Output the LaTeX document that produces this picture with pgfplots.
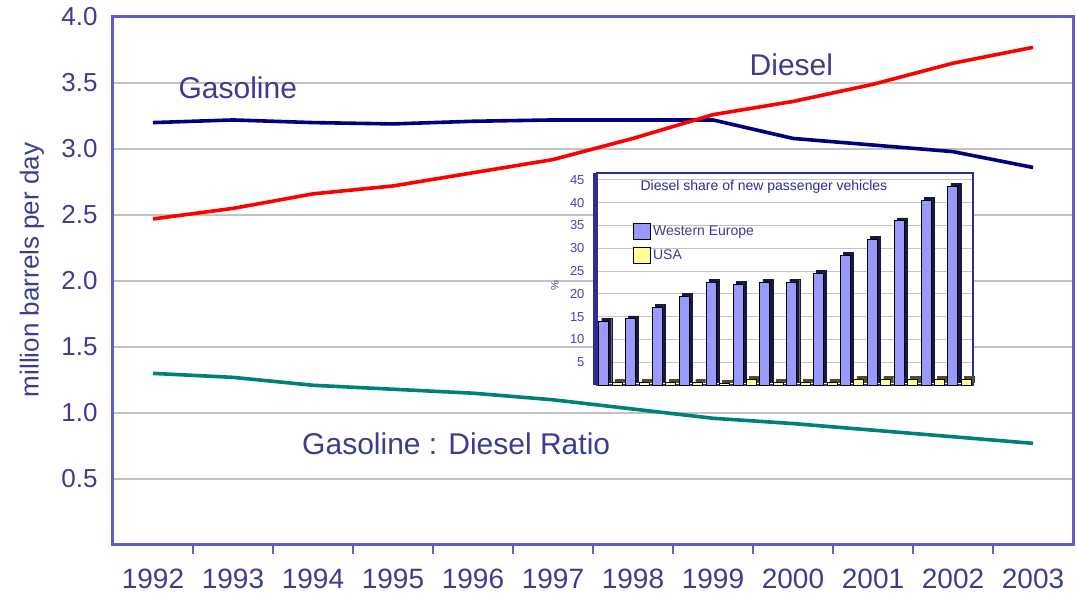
\documentclass[border=0pt]{standalone}
\usepackage{fontspec}
\setmainfont{Liberation Sans}
\usepackage{pgfplots}
\pgfplotsset{compat=1.18}

\definecolor{txtblue}{RGB}{60,60,150}
\definecolor{frameblue}{RGB}{95,95,200}
\definecolor{gasnavy}{RGB}{0,0,128}
\definecolor{dieselred}{RGB}{255,0,0}
\definecolor{ratioteal}{RGB}{0,128,120}
\definecolor{gridgray}{RGB}{195,195,195}
\definecolor{insetframe}{RGB}{45,45,150}
\definecolor{insettxt}{RGB}{70,70,170}
\definecolor{weblue}{RGB}{153,153,255}
\definecolor{usayellow}{RGB}{255,255,153}
\definecolor{barside}{RGB}{25,25,60}
\definecolor{usaside}{RGB}{80,80,40}

\begin{document}
\begin{tikzpicture}
\begin{axis}[
  name=main,
  scale only axis, width=960pt, height=528pt,
  xmin=-0.5, xmax=11.5, ymin=0, ymax=4,
  clip=false,
  xtick={0,...,11},
  xticklabels={1992,1993,1994,1995,1996,1997,1998,1999,2000,2001,2002,2003},
  ytick={0.5,1,1.5,2,2.5,3,3.5,4},
  /pgf/number format/assume math mode=true,
  major tick length=0pt,
  tick pos=left,
  extra x ticks={0.5,1.5,2.5,3.5,4.5,5.5,6.5,7.5,8.5,9.5,10.5},
  extra x tick labels={},
  extra x tick style={major tick length=9pt, tick align=outside,
    tick style={line width=2pt, color=frameblue}, grid=none},
  ymajorgrids,
  major grid style={gridgray, line width=1.2pt},
  axis line style={frameblue, line width=3pt},
  xticklabel style={font=\fontsize{28}{32}\selectfont, text=txtblue},
  yticklabel style={font=\fontsize{26}{30}\selectfont, text=txtblue,
    /pgf/number format/fixed, /pgf/number format/fixed zerofill,
    /pgf/number format/precision=1},
  xticklabel shift=20pt, yticklabel shift=12pt,
  ylabel={million barrels per day},
  ylabel style={at={(axis description cs:-0.0844,0.521)}, anchor=center,
    font=\fontsize{26}{30}\selectfont, text=txtblue},
]
% Gasoline demand
\addplot[gasnavy, line width=3.6pt, line join=round] coordinates {
  (0,3.20) (1,3.22) (2,3.20) (3,3.19) (4,3.21) (5,3.22)
  (6,3.22) (7,3.22) (8,3.08) (9,3.03) (10,2.98) (11,2.86)};
% Diesel demand
\addplot[dieselred, line width=3.6pt, line join=round] coordinates {
  (0,2.47) (1,2.55) (2,2.66) (3,2.72) (4,2.82) (5,2.92)
  (6,3.08) (7,3.26) (8,3.36) (9,3.49) (10,3.65) (11,3.77)};
% Gasoline : diesel ratio
\addplot[ratioteal, line width=3.6pt, line join=round] coordinates {
  (0,1.30) (1,1.27) (2,1.21) (3,1.18) (4,1.15) (5,1.10)
  (6,1.03) (7,0.96) (8,0.92) (9,0.87) (10,0.82) (11,0.77)};

\node[text=txtblue, font=\fontsize{30}{34}\selectfont] at (axis cs:1.06,3.46) {Gasoline};
\node[text=txtblue, font=\fontsize{30}{34}\selectfont] at (axis cs:7.98,3.64) {Diesel};
\node[text=txtblue, font=\fontsize{30}{34}\selectfont] at (axis cs:3.79,0.77) {Gasoline : Diesel Ratio};
\end{axis}

% Inset: diesel share of new passenger vehicles
\begin{axis}[
  at={(main.south west)}, anchor=south west, xshift=484pt, yshift=160pt,
  scale only axis, width=376pt, height=212pt,
  xmin=-0.5, xmax=13.5, ymin=0, ymax=46.5,
  clip=false,
  xtick=\empty,
  ytick={5,10,...,45},
  /pgf/number format/assume math mode=true,
  major tick length=0pt,
  ymajorgrids,
  major grid style={gridgray, line width=0.8pt},
  axis background/.style={fill=white},
  axis line style={insetframe, line width=2pt},
  yticklabel style={font=\fontsize{13}{15}\selectfont, text=insettxt},
  yticklabel shift=9pt,
  legend style={at={(axis description cs:0.096,0.764)}, anchor=north west,
    draw=none, fill=none, font=\fontsize{14}{16}\selectfont, text=txtblue,
    row sep=7pt, inner sep=0pt},
  legend cell align=left,
]
% depth faces
\addplot[ybar, bar width=10pt, bar shift=-3.7pt, yshift=3pt,
  fill=barside, draw=barside, forget plot] coordinates {
  (0,14) (1,14.5) (2,17) (3,19.5) (4,22.5) (5,22) (6,22.5)
  (7,22.5) (8,24.5) (9,28.5) (10,32) (11,36) (12,40.5) (13,43.5)};
\addplot[ybar, bar width=10pt, bar shift=9.7pt, yshift=3pt,
  fill=usaside, draw=usaside, forget plot] coordinates {
  (0,0.6) (1,0.6) (2,0.6) (3,0.6) (4,0.3) (5,1.2) (6,0.6)
  (7,0.6) (8,0.6) (9,1.2) (10,1.2) (11,1.2) (12,1.2) (13,1.2)};
% front faces
\addplot[ybar, bar width=10pt, bar shift=-6.7pt,
  fill=weblue, draw=black, line width=0.8pt, forget plot] coordinates {
  (0,14) (1,14.5) (2,17) (3,19.5) (4,22.5) (5,22) (6,22.5)
  (7,22.5) (8,24.5) (9,28.5) (10,32) (11,36) (12,40.5) (13,43.5)};
\addplot[ybar, bar width=10pt, bar shift=6.7pt,
  fill=usayellow, draw=black, line width=0.8pt, forget plot] coordinates {
  (0,0.6) (1,0.6) (2,0.6) (3,0.6) (4,0.3) (5,1.2) (6,0.6)
  (7,0.6) (8,0.6) (9,1.2) (10,1.2) (11,1.2) (12,1.2) (13,1.2)};

\addlegendimage{legend image code/.code={\draw[fill=weblue, draw=black, line width=0.8pt] (0pt,-8pt) rectangle (17pt,8pt);}}
\addlegendentry{Western Europe}
\addlegendimage{legend image code/.code={\draw[fill=usayellow, draw=black, line width=0.8pt] (0pt,-8pt) rectangle (17pt,8pt);}}
\addlegendentry{USA}

% left wall of the inset frame
\fill[insetframe] ([xshift=-4pt]rel axis cs:0,0) rectangle (rel axis cs:0,1);
\node[font=\fontsize{14}{16}\selectfont, text=insetframe] at (axis description cs:0.444,0.934)
  {Diesel share of new passenger vehicles};
\node[rotate=90, font=\fontsize{11}{13}\selectfont, text=insettxt] at (axis description cs:-0.112,0.47) {\%};
\end{axis}

\pgfresetboundingbox
\path ([shift={(-113pt,-56pt)}]main.south west) rectangle ([shift={(3pt,17pt)}]main.north east);
\end{tikzpicture}
\end{document}
